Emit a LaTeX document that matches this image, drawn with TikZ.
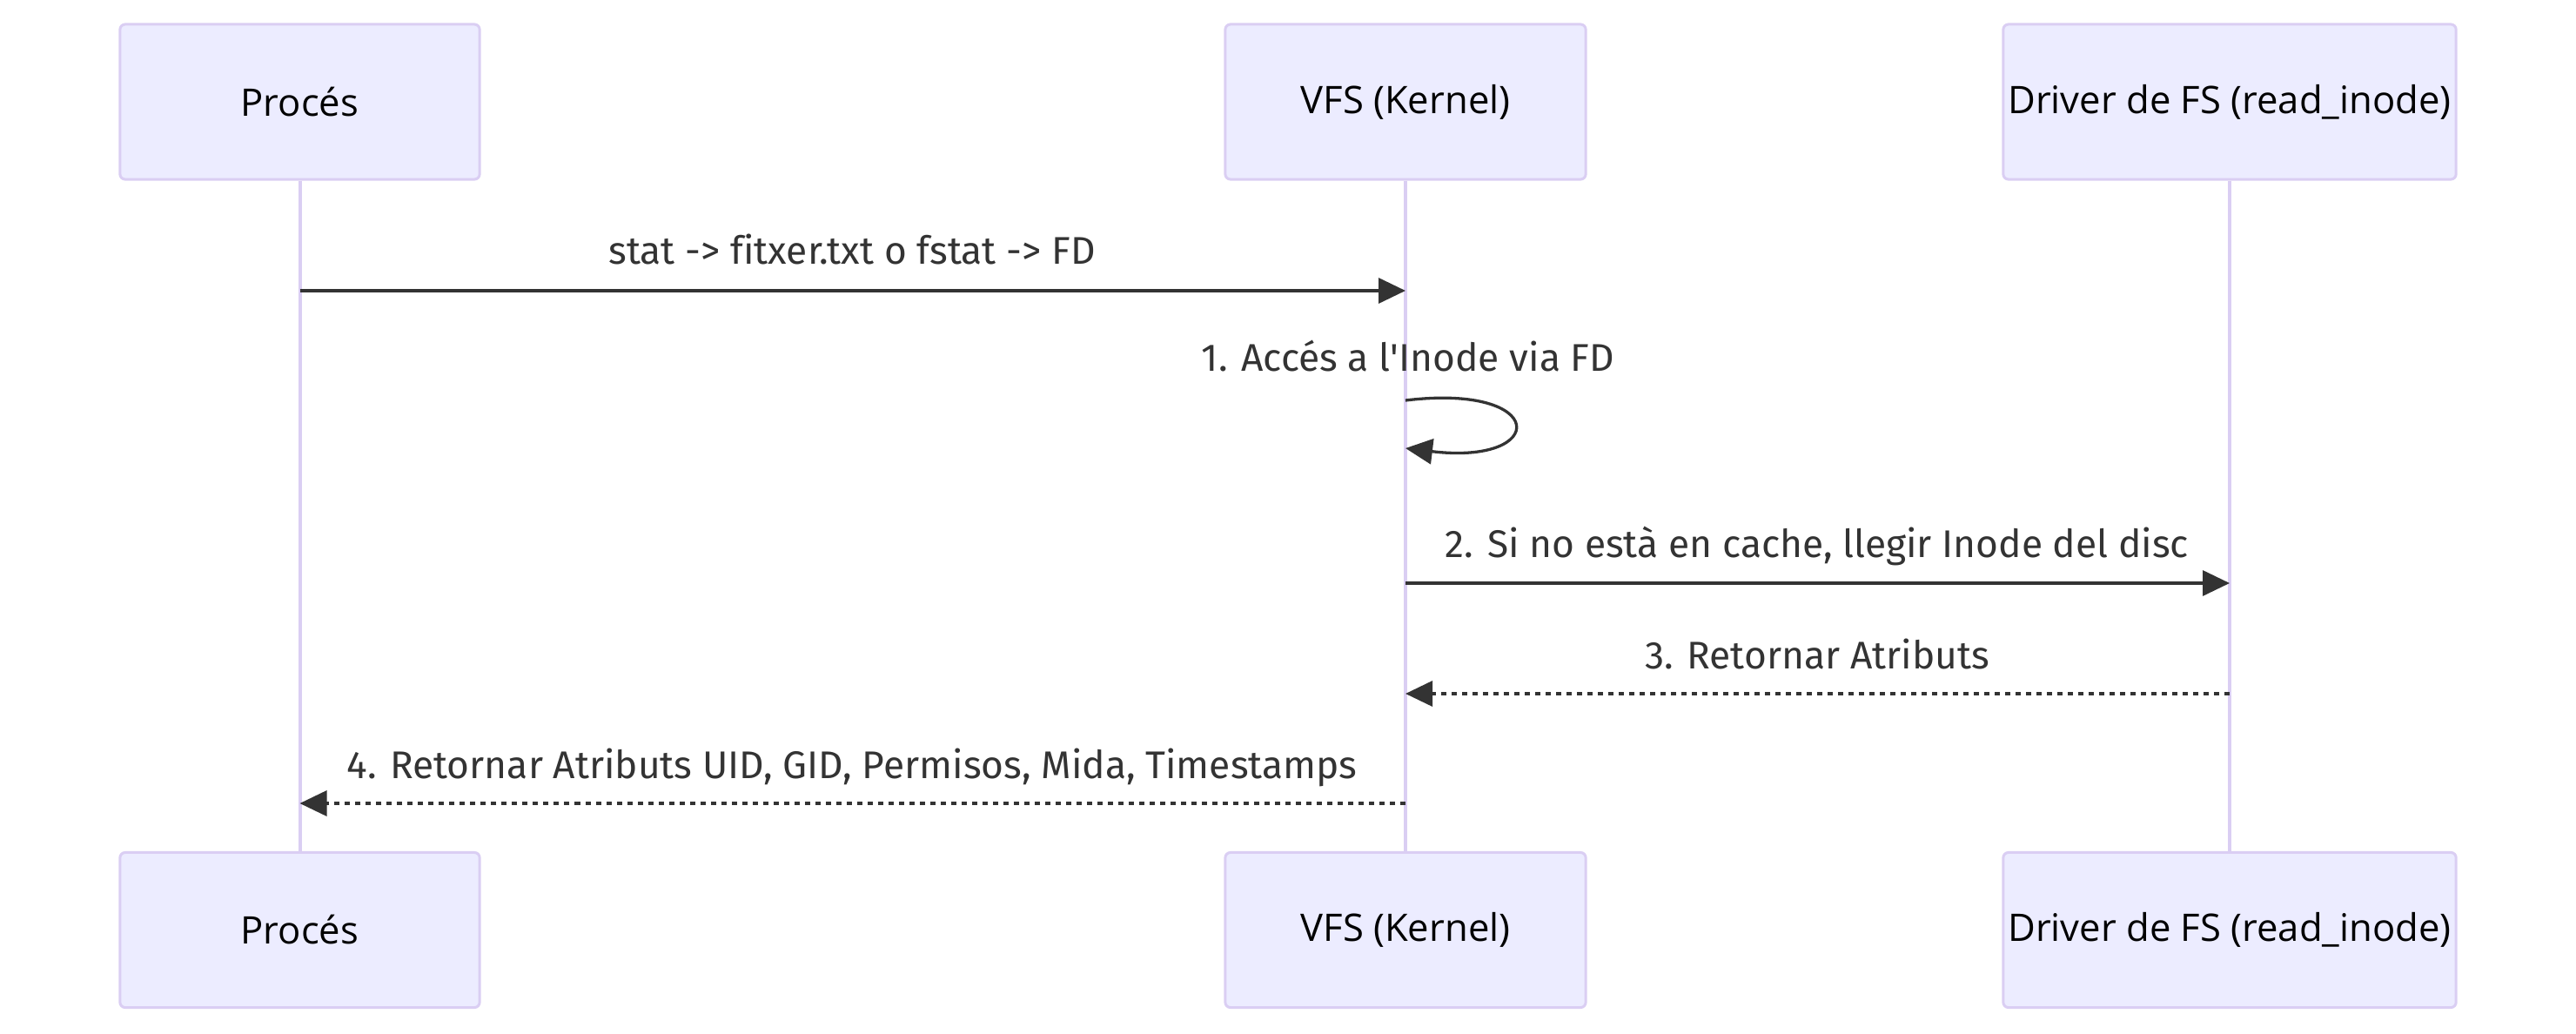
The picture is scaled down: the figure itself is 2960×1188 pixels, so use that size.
\documentclass[tikz,border=0pt]{standalone}
\usepackage{fontspec}
\setmainfont{Fira Sans}[Ligatures={NoCommon}]
\newfontfamily\actorfont{Open Sans}
\usetikzlibrary{arrows.meta}

\definecolor{actorfill}{HTML}{ECECFF}
\definecolor{actorline}{HTML}{DACEF3}
\definecolor{msgcol}{HTML}{333333}

\tikzset{
  actor/.style={draw=actorline, fill=actorfill, line width=0.03cm, rounded corners=0.06cm,
    minimum height=1.78cm, inner sep=0pt, text=black, font=\actorfont\fontsize{12.4}{15}\selectfont},
  lifeline/.style={draw=actorline, line width=0.04cm},
  msg/.style={draw=msgcol, line width=0.033cm, -{Triangle[length=0.31cm,width=0.29cm]}},
  reply/.style={msg, dash pattern=on 0.06cm off 0.06cm},
  msglabel/.style={text=msgcol, inner sep=0pt, anchor=base, font=\fontsize{12.6}{15}\selectfont}
}

\begin{document}
\begin{tikzpicture}[x=0.01cm, y=-0.01cm]
\useasboundingbox (0,0) rectangle (2960,1188);

% Actors
\node[actor, minimum width=4.13cm] (procT) at (344.5,117) {Procés};
\node[actor, minimum width=4.14cm] (vfsT) at (1615,117) {VFS (Kernel)};
\node[actor, minimum width=5.20cm] (drvT) at (2562,117) {Driver de FS (read\_inode)};
\node[actor, minimum width=4.13cm] (procB) at (344.5,1068.5) {Procés};
\node[actor, minimum width=4.14cm] (vfsB) at (1615,1068.5) {VFS (Kernel)};
\node[actor, minimum width=5.20cm] (drvB) at (2562,1068.5) {Driver de FS (read\_inode)};

% Lifelines
\draw[lifeline] (procT.south) -- (procB.north);
\draw[lifeline] (vfsT.south) -- (vfsB.north);
\draw[lifeline] (drvT.south) -- (drvB.north);

% Messages
\node[msglabel] (l1) at (979,304) {stat -> fitxer.txt o fstat -> FD};
\draw[msg] (procT |- 0,334) -- (vfsT |- 0,334);

\node[msglabel] (l2) at (1618,426) {1. Accés a l\textquotesingle Inode via FD};
\draw[msg] (vfsT |- 0,460) .. controls +(165,-20) and +(165,20) .. (vfsT |- 0,515);

\node[msglabel] (l3) at (2088,640) {2. Si no està en cache, llegir Inode del disc};
\draw[msg] (vfsT |- 0,670) -- (drvT |- 0,670);

\node[msglabel] (l4) at (2088,768) {3. Retornar Atributs};
\draw[reply] (drvT |- 0,797) -- (vfsT |- 0,797);

\node[msglabel] (l5) at (979,894) {4. Retornar Atributs UID, GID, Permisos, Mida, Timestamps};
\draw[reply] (vfsT |- 0,923) -- (procT |- 0,923);

\end{tikzpicture}
\end{document}
